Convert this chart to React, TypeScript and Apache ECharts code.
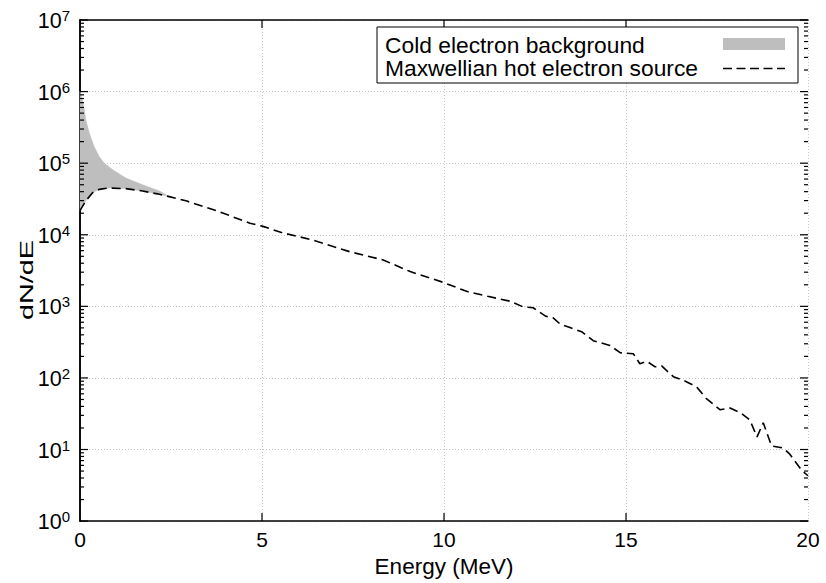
import React, { useEffect, useRef } from "react";
import * as echarts from "echarts";

// Maxwellian hot electron source (dashed line)
const hotEnergy = [
  0, 0.16, 0.35, 0.53, 0.8, 1.26, 1.72, 2.18, 2.45, 2.91, 3.75, 4.2, 4.67, 5.0,
  5.58, 6.41, 7.42, 8.33, 9.07, 9.98, 10.62, 11.2, 11.81, 12.18, 12.45, 12.8,
  13.0, 13.19, 13.46, 13.78, 14.1, 14.56, 14.84, 15.2, 15.38, 15.57, 15.8,
  15.98, 16.3, 16.57, 16.94, 17.2, 17.58, 17.86, 18.17, 18.4, 18.6, 18.77,
  19.0, 19.32, 19.5, 19.83, 20.0,
];
const hotCounts = [
  21700, 29800, 38800, 43100, 45000, 44100, 40900, 36700, 34100, 29800, 21700,
  17800, 14500, 13200, 10600, 8400, 5780, 4440, 3060, 2160, 1620, 1380, 1180,
  980, 955, 725, 690, 565, 507, 442, 331, 284, 225, 218, 158, 171, 143, 147,
  104, 93, 75, 52, 36, 38, 32, 26, 15, 23.6, 11.2, 10.5, 8.6, 5.1, 4.3,
];

// Upper edge of the cold electron background (total)
const coldEnergy = [0, 0.09, 0.16, 0.26, 0.39, 0.53, 0.67, 0.9, 1.26, 1.72, 2.18, 2.45];
const coldCounts = [1.0e6, 6.8e5, 4.0e5, 2.6e5, 1.7e5, 1.23e5, 1.0e5, 8.1e4, 6.2e4, 5.0e4, 4.1e4, 3.41e4];

const xTicks = [0, 5, 10, 15, 20];
const decades = [0, 1, 2, 3, 4, 5, 6, 7];
const legendLabels = ["Cold electron background", "Maxwellian hot electron source"];
const xTitle = "Energy (MeV)";
const yTitle = "dN/dE";

const FONT = "'Liberation Sans', Arial, Helvetica, sans-serif";

export default function App() {
  const ref = useRef<HTMLDivElement>(null);
  useEffect(() => {
    if (!ref.current) return;
    const chart = echarts.init(ref.current, null, { renderer: "svg" });
    const minorVals: number[] = [];
    decades.slice(0, -1).forEach((d) => {
      for (let m = 2; m <= 9; m++) minorVals.push(m * Math.pow(10, d));
    });
    const majorVals = decades.map((d) => Math.pow(10, d));
    const xMin = xTicks[0];
    const xMax = xTicks[xTicks.length - 1];
    const yMin = majorVals[0];
    const yMax = majorVals[majorVals.length - 1];
    const mergeX = coldEnergy[coldEnergy.length - 1];

    const axisLineStyle = { show: true, lineStyle: { color: "#000", width: 1.5 } };
    const gridLine = { show: true, lineStyle: { color: "#c4c4c4", width: 1, type: [1, 2] } };

    const option: any = {
      animation: false,
      grid: { left: 80, right: 18, top: 20, bottom: 55, containLabel: false },
      xAxis: [
        {
          type: "value",
          position: "bottom",
          min: xMin,
          max: xMax,
          interval: 5,
          axisLine: axisLineStyle,
          axisTick: { show: false },
          axisLabel: { color: "#000", fontSize: 21, fontFamily: FONT, margin: 8 },
          splitLine: gridLine,
          name: xTitle,
          nameLocation: "middle",
          nameGap: 33,
          nameTextStyle: { color: "#000", fontSize: 22.5, fontFamily: FONT },
        },
        {
          type: "value",
          position: "top",
          min: xMin,
          max: xMax,
          interval: 5,
          axisLine: axisLineStyle,
          axisTick: { show: false },
          axisLabel: { show: false },
          splitLine: { show: false },
        },
      ],
      yAxis: [
        {
          type: "log",
          logBase: 10,
          min: yMin,
          max: yMax,
          position: "left",
          axisLine: axisLineStyle,
          axisTick: { show: false },
          axisLabel: {
            margin: 10,
            formatter: (v: number) => `{b|10}{e|${Math.round(Math.log10(v))}}`,
            rich: {
              b: { fontSize: 21.5, fontFamily: FONT, color: "#000", lineHeight: 24, verticalAlign: "bottom" },
              e: { fontSize: 15, fontFamily: FONT, color: "#000", lineHeight: 14, verticalAlign: "top" },
            },
          },
          splitLine: gridLine,
        },
        {
          type: "log",
          logBase: 10,
          min: yMin,
          max: yMax,
          position: "right",
          axisLine: axisLineStyle,
          axisTick: { show: false },
          axisLabel: { show: false },
          splitLine: { show: false },
        },
      ],
      series: [
        {
          type: "custom",
          name: legendLabels[0],
          coordinateSystem: "cartesian2d",
          data: [[coldEnergy[0], coldCounts[0]]],
          silent: true,
          z: 1,
          renderItem: (_params: any, api: any) => {
            const pts: number[][] = [];
            coldEnergy.forEach((x, i) => pts.push(api.coord([x, coldCounts[i]])));
            for (let i = hotEnergy.length - 1; i >= 0; i--) {
              if (hotEnergy[i] <= mergeX) pts.push(api.coord([hotEnergy[i], hotCounts[i]]));
            }
            return {
              type: "polygon",
              shape: { points: pts },
              style: { fill: "#bebebe", stroke: "#bebebe", lineWidth: 0.5 },
            };
          },
        },
        {
          type: "line",
          name: legendLabels[1],
          data: hotEnergy.map((x, i) => [x, hotCounts[i]]),
          showSymbol: false,
          symbol: "none",
          z: 3,
          lineStyle: { color: "#000", width: 1.6, type: [9, 5] },
        },
        {
          // axis tick marks (inward), placed through the axes' scales
          type: "custom",
          coordinateSystem: "cartesian2d",
          data: [[xMin, yMin]],
          silent: true,
          clip: false,
          z: 6,
          renderItem: (_params: any, api: any) => {
            const children: any[] = [];
            const st = { stroke: "#000", lineWidth: 1.2 };
            const addY = (v: number, len: number) => {
              const a = api.coord([xMin, v]);
              const b = api.coord([xMax, v]);
              children.push({ type: "line", shape: { x1: a[0], y1: a[1], x2: a[0] + len, y2: a[1] }, style: st });
              children.push({ type: "line", shape: { x1: b[0], y1: b[1], x2: b[0] - len, y2: b[1] }, style: st });
            };
            majorVals.forEach((v) => addY(v, 8));
            minorVals.forEach((v) => addY(v, 4));
            xTicks.slice(1, -1).forEach((x) => {
              const a = api.coord([x, yMin]);
              const b = api.coord([x, yMax]);
              children.push({ type: "line", shape: { x1: a[0], y1: a[1], x2: a[0], y2: a[1] - 8 }, style: st });
              children.push({ type: "line", shape: { x1: b[0], y1: b[1], x2: b[0], y2: b[1] + 8 }, style: st });
            });
            return { type: "group", children };
          },
        },
      ],
      graphic: [
        {
          type: "text",
          x: 27,
          y: 280,
          rotation: Math.PI / 2,
          scaleX: 1.31,
          scaleY: 0.8,
          style: {
            text: yTitle,
            font: `22px ${FONT}`,
            fill: "#000",
            align: "center",
            verticalAlign: "middle",
          },
        },
        {
          type: "rect",
          shape: { x: 377, y: 27, width: 421, height: 56 },
          style: { fill: "#fff", stroke: "#000", lineWidth: 1 },
          z: 10,
        },
        {
          type: "text",
          x: 385,
          y: 56.5,
          z: 11,
          style: {
            text: legendLabels.join("\n"),
            font: `22.8px ${FONT}`,
            lineHeight: 23,
            fill: "#000",
            align: "left",
            verticalAlign: "middle",
          },
        },
        {
          type: "rect",
          shape: { x: 723, y: 38, width: 62, height: 12 },
          style: { fill: "#bebebe" },
          z: 11,
        },
        {
          type: "line",
          shape: { x1: 723, y1: 68.5, x2: 785, y2: 68.5 },
          style: { stroke: "#000", lineWidth: 1.4, lineDash: [9, 4.5] },
          z: 11,
        },
      ],
    };
    chart.setOption(option);
    return () => chart.dispose();
  }, []);
  return (
    <div
      ref={ref}
      style={{ position: "fixed", left: 0, top: 0, width: 826, height: 583, background: "#fff" }}
    />
  );
}
